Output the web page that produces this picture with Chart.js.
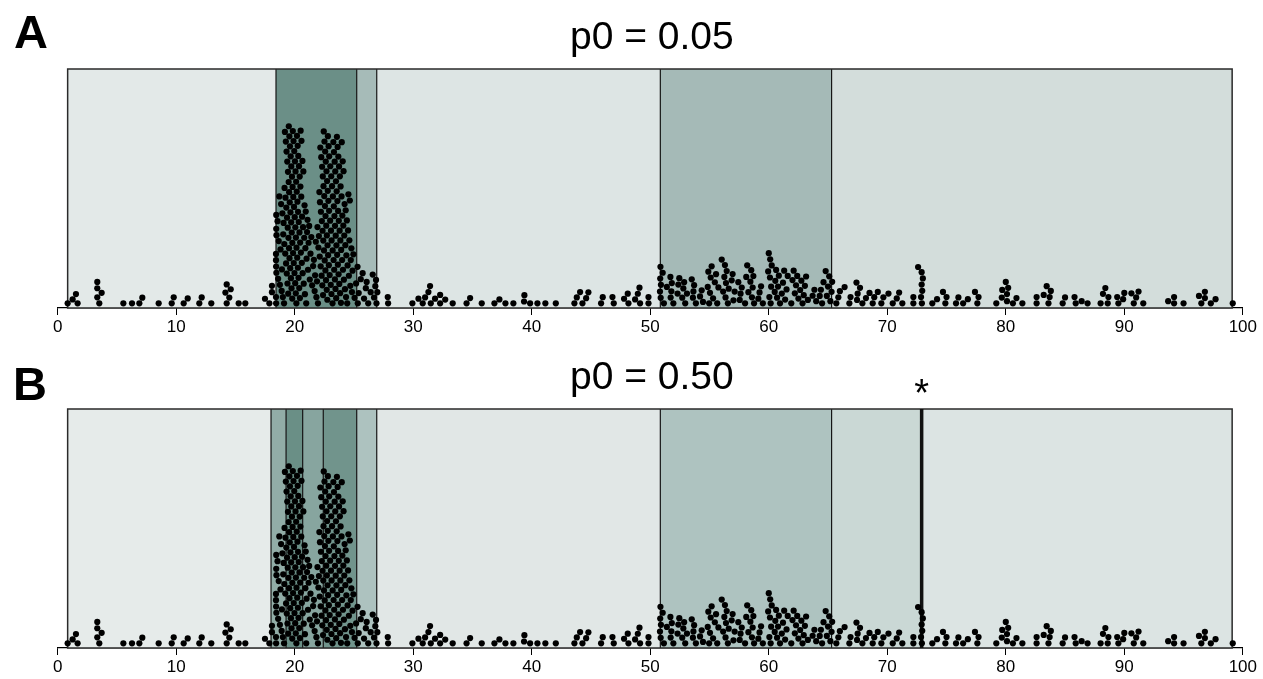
<!DOCTYPE html>
<html lang="en">
<head>
<meta charset="UTF-8">
<title>p0 segmentation</title>
<script src="https://cdn.jsdelivr.net/npm/chart.js"></script>
<style>
  body { margin: 0; background: #fff; }
  canvas { display: block; }
</style>
</head>
<body>
<canvas id="panelA" width="1263" height="340"></canvas>
<canvas id="panelB" width="1263" height="339"></canvas>
<script>
// observed positions (same observations in both panels), split by stretch
const posLeft = [0.84, 1.26, 1.54, 1.68, 3.34, 3.34, 3.34, 3.51, 3.71, 5.54, 6.27, 6.89, 7.14, 8.52,
  9.62, 9.79, 10.63, 10.97, 11.95, 12.15, 12.96, 14.15, 14.26, 14.26, 14.48, 14.6, 15.27, 15.83,
  17.49, 17.86, 18.08, 18.08];
const posPeaks = [18.42, 18.42, 18.42, 18.43, 18.43, 18.44, 18.44, 18.45, 18.46,
  18.55, 18.6, 18.65, 18.7, 18.75, 18.8, 18.85, 18.9,
  18.92, 18.96, 19.0, 19.03, 19.06, 19.1,
  19.12, 19.14, 19.17, 19.2, 19.22, 19.25, 19.27, 19.29,
  19.31, 19.33, 19.35, 19.37, 19.39, 19.41, 19.43, 19.45, 19.47, 19.49,
  19.5, 19.52, 19.53, 19.55, 19.56, 19.58, 19.6, 19.62, 19.64, 19.66, 19.68, 19.7,
  19.71, 19.73, 19.75, 19.77, 19.79, 19.8, 19.82, 19.84, 19.86, 19.88, 19.9,
  19.92, 19.94, 19.96, 19.98, 20.0, 20.02, 20.04, 20.05, 20.07, 20.09, 20.1,
  20.12, 20.14, 20.15, 20.17, 20.19, 20.21, 20.23, 20.25, 20.27, 20.28, 20.3,
  20.32, 20.34, 20.36, 20.38, 20.4, 20.42, 20.44, 20.46, 20.48, 20.5,
  20.52, 20.55, 20.57, 20.6, 20.62, 20.65, 20.67, 20.7,
  20.73, 20.76, 20.8, 20.83, 20.86, 20.9,
  20.93, 20.97, 21.0, 21.04, 21.08, 21.12, 21.17, 21.22, 21.27,
  21.33, 21.4, 21.47, 21.55, 21.62, 21.68, 21.72, 21.78, 21.83, 21.88,
  21.92, 21.96, 22.0, 22.04, 22.08,
  22.11, 22.13, 22.16, 22.19, 22.21, 22.24, 22.27, 22.29,
  22.31, 22.33, 22.35, 22.37, 22.39, 22.41, 22.43, 22.45, 22.47, 22.49,
  22.51, 22.53, 22.55, 22.57, 22.59, 22.6, 22.62, 22.64, 22.66, 22.68, 22.7,
  22.71, 22.73, 22.75, 22.77, 22.79, 22.8, 22.82, 22.84, 22.86, 22.88, 22.9,
  22.91, 22.95, 22.99, 23.0, 23.04, 23.06, 23.08, 23.1,
  23.11, 23.15, 23.19, 23.2, 23.22, 23.26, 23.28, 23.3,
  23.31, 23.33, 23.35, 23.37, 23.39, 23.4, 23.42, 23.44, 23.46, 23.48, 23.5,
  23.52, 23.54, 23.56, 23.58, 23.6, 23.62, 23.64, 23.66, 23.68, 23.7,
  23.72, 23.74, 23.76, 23.79, 23.81, 23.83, 23.85, 23.87, 23.9,
  23.92, 23.95, 23.97, 24.0, 24.02, 24.05, 24.07, 24.1,
  24.12, 24.15, 24.18, 24.21, 24.24, 24.27, 24.3,
  24.33, 24.36, 24.4, 24.43, 24.46, 24.5,
  24.53, 24.57, 24.61, 24.65, 24.69, 24.73, 24.78, 24.83, 24.88,
  24.95, 25.05, 25.18];
const posMid = [25.3, 25.32, 25.4, 25.57, 25.73, 25.85, 26.0, 26.07, 26.2, 26.41, 26.58, 26.69,
  26.8, 26.86, 26.9, 26.97, 27.85, 27.88, 29.93, 30.44, 30.8, 31.0, 31.28, 31.42, 31.48, 31.84,
  32.27, 32.27, 32.7, 33.33, 34.5, 34.8, 35.78, 36.85, 37.27, 37.78, 38.45, 39.35, 39.38, 39.86,
  40.48, 41.15, 42.03, 43.6, 43.8, 44.08, 44.28, 44.59, 44.78, 45.85, 45.99, 46.81, 46.92,
  47.79, 48.1, 48.16, 48.72, 48.95, 49.09, 49.14, 49.85, 49.85];
const posHump = [50.82, 50.84, 50.86, 50.88, 50.9, 51.05, 51.15, 51.4,
  51.7, 51.72, 51.78, 51.82, 51.95, 52.3, 52.37, 52.45, 52.7, 52.79, 52.86, 52.95, 53.1,
  53.5, 53.6, 53.64, 53.7, 53.85, 54.2, 54.34, 54.45,
  54.85, 54.9, 54.97, 55.04, 55.1, 55.18, 55.3, 55.45, 55.55, 55.65, 55.75,
  56.03, 56.15, 56.25, 56.3, 56.35, 56.39, 56.45, 56.55, 56.62,
  56.87, 56.95, 57.02, 57.12, 57.43, 57.55, 57.62, 57.72,
  58.0, 58.1, 58.18, 58.28, 58.45, 58.52, 58.58, 58.64, 58.7, 58.76,
  59.12, 59.22, 59.35, 59.5, 59.95, 60.0, 60.05, 60.1, 60.12, 60.16, 60.2, 60.25,
  60.5, 60.55, 60.62, 60.7, 60.78, 60.85, 60.95, 61.1, 61.2, 61.3, 61.38, 61.5, 61.6,
  61.9, 62.0, 62.1, 62.2, 62.3, 62.4, 62.5, 62.65, 62.75, 62.85, 62.95, 63.05, 63.15, 63.3,
  63.7, 63.85, 64.0, 64.3, 64.4, 64.5, 64.62, 64.8, 64.9, 65.0, 65.1, 65.2];
const posRight = [65.3, 65.35, 65.7, 65.87, 66.0, 66.4, 66.8, 66.9, 67.4, 67.45, 67.5, 67.7, 67.9,
  68.2, 68.5, 68.77, 68.9, 69.2, 69.5, 69.67, 70.1, 70.46, 70.8, 71.0, 71.27, 72.2, 72.2, 72.6,
  72.85, 72.9, 72.9, 72.92, 72.95, 73.0, 73.8, 74.2, 74.7, 74.9, 75.0, 75.8, 76.0, 76.4, 76.8,
  77.4, 77.6, 77.7, 79.2, 79.66, 79.7, 80.0, 80.1, 80.1, 80.2, 80.6, 80.9, 81.4, 82.6, 82.6,
  83.2, 83.45, 83.6, 83.7, 83.8, 84.8, 85.0, 85.8, 85.9, 86.4, 86.9, 88.0, 88.2, 88.4, 88.6,
  88.66, 89.4, 89.5, 89.9, 90.0, 90.6, 90.8, 91.0, 91.2, 91.6, 93.7, 94.2, 94.2, 95.0, 96.3,
  96.5, 96.8, 96.8, 97.3, 97.7, 99.15];

// segment breakpoints for each p0
const edgesA = [0.84, 18.42, 25.23, 26.92, 50.85, 65.3, 99.1];
const edgesB = [0.84, 18.0, 19.27, 20.67, 22.41, 25.23, 26.92, 50.85, 65.3, 72.9, 99.1];
const starredB = [72.9];
const titles = ['p0 = 0.05', 'p0 = 0.50'];

const shadesA = ['#e3e9e8', '#6b8f87', '#a6bbb8', '#dde5e4', '#a5bab7', '#d3dddb'];
const shadesB = ['#e6ebea', '#92ada7', '#6a8f86', '#87a59f', '#71948c', '#adc2bf', '#e1e7e6',
  '#aec3c0', '#cad8d5', '#dce4e3'];

const FONT = '"Liberation Sans", Arial, Helvetica, sans-serif';
const allPos = posLeft.concat(posPeaks, posMid, posHump, posRight);

// one-sided beeswarm: dots are placed in a scrambled order, each at the lowest free spot
// (y in dot diameters)
function swarm(xs, unitsPerDot) {
  const n = xs.length;
  const gcd = (a, b) => b ? gcd(b, a % b) : a;
  let step = 613;
  while (gcd(step, n) !== 1) step++;
  const placed = [];
  for (let k = 0; k < n; k++) {
    const x = xs[(k * step) % n];
    const u = x / unitsPerDot;
    const near = placed.filter(p => Math.abs(p.u - u) < 1);
    const cand = [0];
    near.forEach(p => {
      const h = Math.sqrt(1 - (p.u - u) ** 2);
      cand.push(p.y + h);
      if (p.y - h >= 0) cand.push(p.y - h);
    });
    cand.sort((a, b) => a - b);
    const y = cand.find(c => near.every(p => (p.u - u) ** 2 + (p.y - c) ** 2 > 0.998));
    placed.push({ u: u, x: x, y: y });
  }
  return placed.map(p => ({ x: p.x, y: p.y }));
}

// dot spacing 6.3px on a 1185px wide 0-100 axis
const dots = swarm(allPos, 6.3 / 11.853);

function bands(edges, shades, stars, letter, letterX, letterY) {
  return {
    id: 'bands',
    beforeDatasetsDraw(chart) {
      const { ctx, chartArea: a, scales: { x } } = chart;
      const h = a.bottom - a.top;
      ctx.save();
      for (let i = 0; i < edges.length - 1; i++) {
        const x0 = x.getPixelForValue(edges[i]);
        const x1 = x.getPixelForValue(edges[i + 1]);
        ctx.fillStyle = shades[i];
        ctx.fillRect(x0, a.top, x1 - x0, h);
      }
      ctx.strokeStyle = '#151515';
      ctx.lineWidth = 1.2;
      for (let i = 1; i < edges.length - 1; i++) {
        const px = x.getPixelForValue(edges[i]);
        ctx.beginPath();
        ctx.moveTo(px, a.top);
        ctx.lineTo(px, a.bottom);
        ctx.stroke();
      }
      const l = x.getPixelForValue(edges[0]);
      const r = x.getPixelForValue(edges[edges.length - 1]);
      ctx.strokeStyle = '#2a2a2a';
      ctx.lineWidth = 1.5;
      ctx.strokeRect(l, a.top, r - l, h);
      stars.forEach(s => {
        const px = x.getPixelForValue(s);
        ctx.strokeStyle = '#111';
        ctx.lineWidth = 3.5;
        ctx.beginPath();
        ctx.moveTo(px, a.top);
        ctx.lineTo(px, a.bottom);
        ctx.stroke();
        ctx.fillStyle = '#000';
        ctx.font = '38px ' + FONT;
        ctx.textAlign = 'center';
        ctx.textBaseline = 'alphabetic';
        ctx.fillText('*', px, a.top - 3);
      });
      ctx.restore();
    },
    afterDraw(chart) {
      const ctx = chart.ctx;
      ctx.save();
      ctx.fillStyle = '#000';
      ctx.font = 'bold 47px ' + FONT;
      ctx.textAlign = 'left';
      ctx.textBaseline = 'alphabetic';
      ctx.fillText(letter, letterX, letterY);
      ctx.restore();
    }
  };
}

function panel(id, title, edges, shades, stars, letter, lx, ly, padBottom) {
  return new Chart(document.getElementById(id), {
    type: 'scatter',
    data: {
      datasets: [{
        data: dots,
        pointRadius: 3.1,
        pointHoverRadius: 3.1,
        pointBackgroundColor: '#000',
        pointBorderWidth: 0
      }]
    },
    options: {
      responsive: false,
      animation: false,
      events: [],
      layout: { padding: { left: 57.7, right: 17, top: 0, bottom: padBottom } },
      plugins: {
        legend: { display: false },
        tooltip: { enabled: false },
        title: {
          display: true,
          text: title,
          color: '#000',
          font: { family: FONT, size: 39, weight: 'normal' },
          padding: { top: 15, bottom: 7.2 }
        }
      },
      scales: {
        x: {
          type: 'linear',
          min: 0,
          max: 100,
          ticks: { stepSize: 10, color: '#000', padding: 6, maxRotation: 0,
            font: { family: FONT, size: 17, lineHeight: 0.7 } },
          grid: { drawOnChartArea: false, tickLength: 7, color: '#000', tickWidth: 1 },
          border: { color: '#000', width: 1.2 }
        },
        y: { display: false, min: -0.75, max: 37.19 }
      }
    },
    plugins: [bands(edges, shades, stars, letter, lx, ly)]
  });
}

panel('panelA', titles[0], edgesA, shadesA, [], 'A', 14, 48, 1.1);
panel('panelB', titles[1], edgesB, shadesB, starredB, 'B', 13, 59.5, 0.1);
</script>
</body>
</html>
